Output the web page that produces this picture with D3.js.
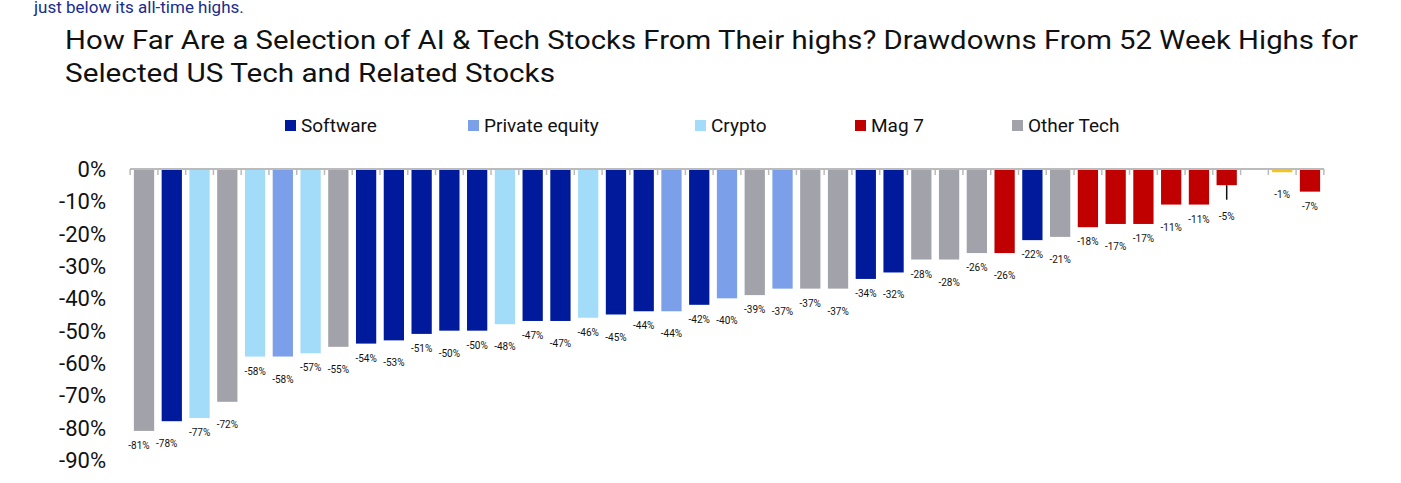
<!DOCTYPE html>
<html><head><meta charset="utf-8">
<script src="https://cdn.jsdelivr.net/npm/d3@7"></script>
<style>body{margin:0;background:#fff}</style></head>
<body><svg id="c" width="1401" height="483"></svg>
<script>
const values=[-81,-78,-77,-72,-58,-58,-57,-55,-54,-53,-51,-50,-50,-48,-47,-47,-46,-45,-44,-44,-42,-40,-39,-37,-37,-37,-34,-32,-28,-28,-26,-26,-22,-21,-18,-17,-17,-11,-11,-5,null,-1,-7];
const groups=["O","S","C","O","C","P","C","O","S","S","S","S","S","C","S","S","C","S","S","P","S","P","O","P","O","O","S","S","O","O","O","M","S","O","M","M","M","M","M","M",null,"Y","M"];
const legendNames=["Software","Private equity","Crypto","Mag 7","Other Tech"];
const legendKeys=["S","P","C","M","O"];
const yTicks=[0,-10,-20,-30,-40,-50,-60,-70,-80,-90];
const colors={S:"#001a9c",P:"#7b9fe8",C:"#a2dcf8",M:"#c00000",O:"#a2a2ab",Y:"#f5c518"};
const svg=d3.select("#c");
const F="Roboto, 'Liberation Sans', sans-serif";
svg.append("text").attr("x",34).attr("y",13).attr("fill","#1a2c8c").attr("font-family",F).attr("font-size",17).text("just below its all-time highs.");
svg.append("text").attr("x",65).attr("y",49).attr("font-family",F).attr("font-size",25).attr("fill","#111").attr("textLength",1293).attr("lengthAdjust","spacingAndGlyphs").text("How Far Are a Selection of AI & Tech Stocks From Their highs? Drawdowns From 52 Week Highs for");
svg.append("text").attr("x",65).attr("y",82).attr("font-family",F).attr("font-size",25).attr("fill","#111").attr("textLength",490).attr("lengthAdjust","spacingAndGlyphs").text("Selected US Tech and Related Stocks");
const lx=[285,468,695,855,1012];
legendKeys.forEach((k,i)=>{
  svg.append("rect").attr("x",lx[i]).attr("y",120).attr("width",11).attr("height",11).attr("fill",colors[k]);
  svg.append("text").attr("x",lx[i]+16).attr("y",132).attr("font-family",F).attr("font-size",19).attr("fill","#111").text(legendNames[i]);
});
const x=d3.scaleBand().domain(d3.range(values.length)).range([130,1324]).paddingInner(0.27).paddingOuter(0.14);
const y=d3.scaleLinear().domain([0,-90]).range([169,460]);
svg.append("g").selectAll("text").data(yTicks).join("text").attr("x",106).attr("y",d=>y(d)+8).attr("text-anchor","end").attr("font-family",F).attr("font-size",22).attr("fill","#111").text(d=>d+"%");
const idx=d3.range(values.length);
svg.append("g").selectAll("rect").data(idx.filter(i=>values[i]!==null)).join("rect")
 .attr("x",i=>x(i)).attr("y",y(0)).attr("width",x.bandwidth()).attr("height",i=>y(values[i])-y(0)).attr("fill",i=>colors[groups[i]]);
svg.append("line").attr("x1",130).attr("x2",1324).attr("y1",y(0)).attr("y2",y(0)).attr("stroke","#bbb").attr("stroke-width",2);
const step=x.step();
svg.append("g").selectAll("line").data(d3.range(values.length+1)).join("line")
 .attr("x1",i=>x(0)-x.paddingInner()*step/2+i*step).attr("x2",i=>x(0)-x.paddingInner()*step/2+i*step)
 .attr("y1",y(0)).attr("y2",y(0)+6).attr("stroke","#bbb").attr("stroke-width",1.5);
const i5=39;
svg.append("line").attr("x1",x(i5)+x.bandwidth()/2).attr("x2",x(i5)+x.bandwidth()/2).attr("y1",y(-5)).attr("y2",y(-9.5)).attr("stroke","#111").attr("stroke-width",1.5);
svg.append("g").selectAll("text").data(idx.filter(i=>values[i]!==null)).join("text")
 .attr("x",i=>x(i)+x.bandwidth()/2+(i<2?-5:0))
 .attr("y",i=>{let b=y(values[i])+(i%2?26:18)+(i==i5?9:0); return Math.min(b,463);})
 .attr("text-anchor","middle").attr("font-family",F).attr("font-size",10).attr("fill","#111").text(i=>values[i]+"%");
</script></body></html>
